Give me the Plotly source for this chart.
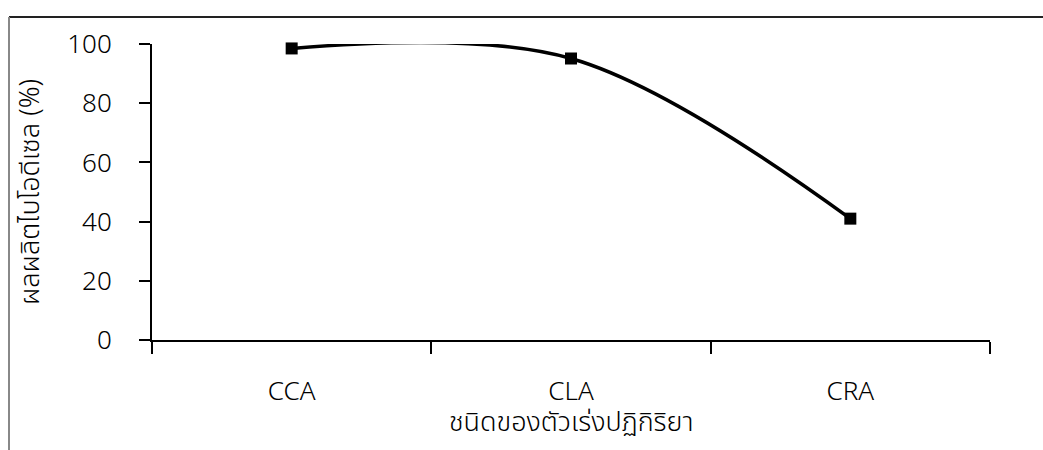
import plotly.graph_objects as go

# Biodiesel yield by catalyst type
catalysts = ["CCA", "CLA", "CRA"]
yield_pct = [98.5, 95.1, 41.0]
y_ticks = [0, 20, 40, 60, 80, 100]

x_title = "ชนิดของตัวเร่งปฏิกิริยา"
y_title = "ผลผลิตไบโอดีเซล (%)"

FONT = "Leelawadee UI, Segoe UI, Noto Sans Thai, Noto Sans, sans-serif"

fig = go.Figure(
    go.Scatter(
        x=catalysts,
        y=yield_pct,
        mode="lines+markers",
        line=dict(color="black", width=3.5, shape="spline", smoothing=1.0),
        marker=dict(symbol="square", size=12, color="black"),
        cliponaxis=False,
        showlegend=False,
        hoverinfo="x+y",
    )
)

W, H = 1043, 450
L, R, T, B = 152, 53, 44, 110


def px_x(p):
    return (p - L) / (W - L - R)


def px_y(p):
    return 1 - (p - T) / (H - T - B)


# outer frame (left and top edges)
fig.add_shape(type="line", xref="paper", yref="paper",
              x0=px_x(9), x1=px_x(1043), y0=px_y(17), y1=px_y(17),
              line=dict(color="#222", width=2))
fig.add_shape(type="line", xref="paper", yref="paper",
              x0=px_x(9), x1=px_x(9), y0=px_y(17), y1=px_y(450),
              line=dict(color="#888", width=2))

# category-axis title, sitting just under the tick labels
fig.add_annotation(text=x_title, xref="paper", yref="paper",
                   x=0.5, y=px_y(422), xanchor="center", yanchor="middle",
                   showarrow=False, font=dict(size=27, weight=300))

fig.update_layout(
    width=W, height=H,
    margin=dict(l=L, r=R, t=T, b=B),
    paper_bgcolor="white", plot_bgcolor="white",
    font=dict(family=FONT, size=26, color="black", weight=300),
    xaxis=dict(
        type="category", tickson="boundaries",
        range=[-0.5, 2.5],
        showline=True, linecolor="black", linewidth=2,
        ticks="outside", ticklen=12, tickwidth=2, tickcolor="black",
        showgrid=False, zeroline=False,
        ticklabelstandoff=27,
    ),
    yaxis=dict(
        range=[0, 100], tickvals=y_ticks,
        showline=True, linecolor="black", linewidth=2,
        ticks="outside", ticklen=11, tickwidth=2, tickcolor="black",
        showgrid=False, zeroline=False,
        ticklabelstandoff=22,
        title=dict(text=y_title, standoff=20, font=dict(size=27, weight=300)),
    ),
)

fig.write_html("out.html")
